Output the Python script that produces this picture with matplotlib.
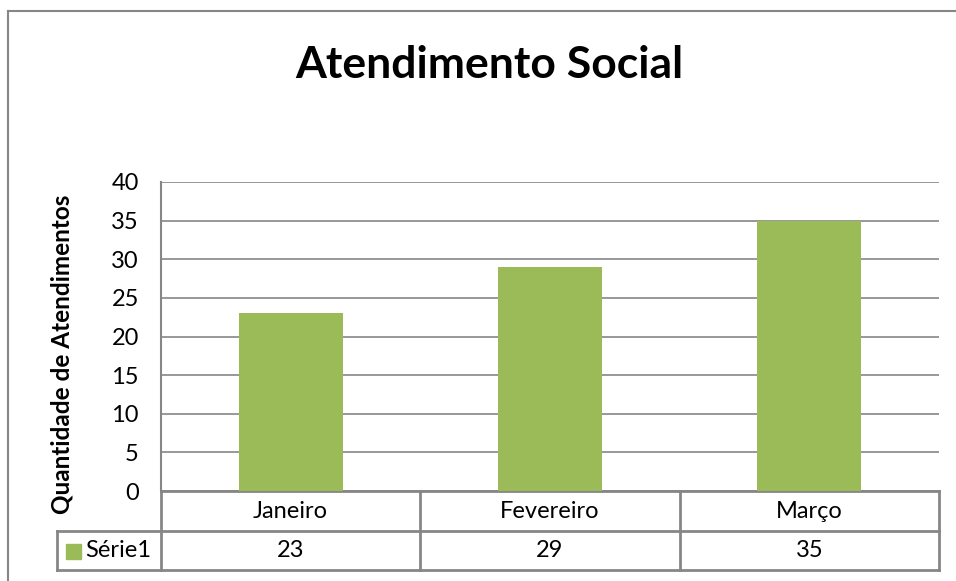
import matplotlib.pyplot as plt
from matplotlib.lines import Line2D
from matplotlib.patches import Rectangle

plt.rcParams['font.family'] = ['Lato', 'DejaVu Sans']

meses = ['Janeiro', 'Fevereiro', 'Março']
valores = [23, 29, 35]
serie = 'Série1'
yticks = [0, 5, 10, 15, 20, 25, 30, 35, 40]

verde = '#9BBB59'
cinza = '#868686'

fig = plt.figure(figsize=(9.56, 5.81), dpi=100)
fig.patch.set_facecolor('white')

# moldura externa do grafico (so topo e esquerda visiveis)
fig.add_artist(Line2D([8/956, 8/956], [0, 1 - 11/581], color=cinza, lw=1.5,
                      transform=fig.transFigure))
fig.add_artist(Line2D([8/956, 1], [1 - 11/581, 1 - 11/581], color=cinza, lw=1.5,
                      transform=fig.transFigure))

ax = fig.add_axes([161/956, 1 - 491/581, 778/956, 309/581])
x = range(len(meses))
ax.bar(x, valores, width=0.4, color=verde, zorder=3)
ax.set_xlim(-0.5, len(meses) - 0.5)
ax.set_ylim(0, 40)
ax.set_yticks(yticks)
ax.set_yticklabels([str(t) for t in yticks], fontsize=17)
ax.tick_params(axis='y', length=0, pad=16)
ax.set_xticks([])
ax.grid(axis='y', color=cinza, lw=1.2, zorder=0)
for s in ['top', 'right', 'bottom']:
    ax.spines[s].set_visible(False)
ax.spines['left'].set_color(cinza)
ax.spines['left'].set_linewidth(1.5)

fig.text(489/956, 1 - 65/581, 'Atendimento Social', ha='center', va='center',
         fontsize=32, fontweight='bold')
fig.text(62/956, 1 - 354/581, 'Quantidade de Atendimentos', ha='center', va='center',
         rotation=90, fontsize=17.5, fontweight='bold')

# tabela de dados
h1 = 40 / 309
h2 = 79 / 309
esq = (57 - 161) / 778
kw = dict(color=cinza, lw=2, transform=ax.transAxes, clip_on=False)
ax.add_line(Line2D([0, 1], [0, 0], **kw))
ax.add_line(Line2D([esq, 1], [-h1, -h1], **kw))
ax.add_line(Line2D([esq, 1], [-h2, -h2], **kw))
ax.add_line(Line2D([esq, esq], [-h1, -h2], **kw))
for i in range(len(meses) + 1):
    ax.add_line(Line2D([i / len(meses)] * 2, [0, -h2], **kw))
for i, (m, v) in enumerate(zip(meses, valores)):
    cx = (i + 0.5) / len(meses)
    ax.text(cx, -h1 / 2, m, ha='center', va='center', fontsize=17,
            transform=ax.transAxes)
    ax.text(cx, -(h1 + h2) / 2, str(v), ha='center', va='center', fontsize=17,
            transform=ax.transAxes)
ax.add_patch(Rectangle(((66 - 161) / 778, -(559 - 491) / 309), 15 / 778, 15 / 309,
                       color=verde, transform=ax.transAxes, clip_on=False))
ax.text((85 - 161) / 778, -(h1 + h2) / 2, serie, ha='left', va='center',
        fontsize=17, transform=ax.transAxes)

fig.savefig('out.png', dpi=100)
